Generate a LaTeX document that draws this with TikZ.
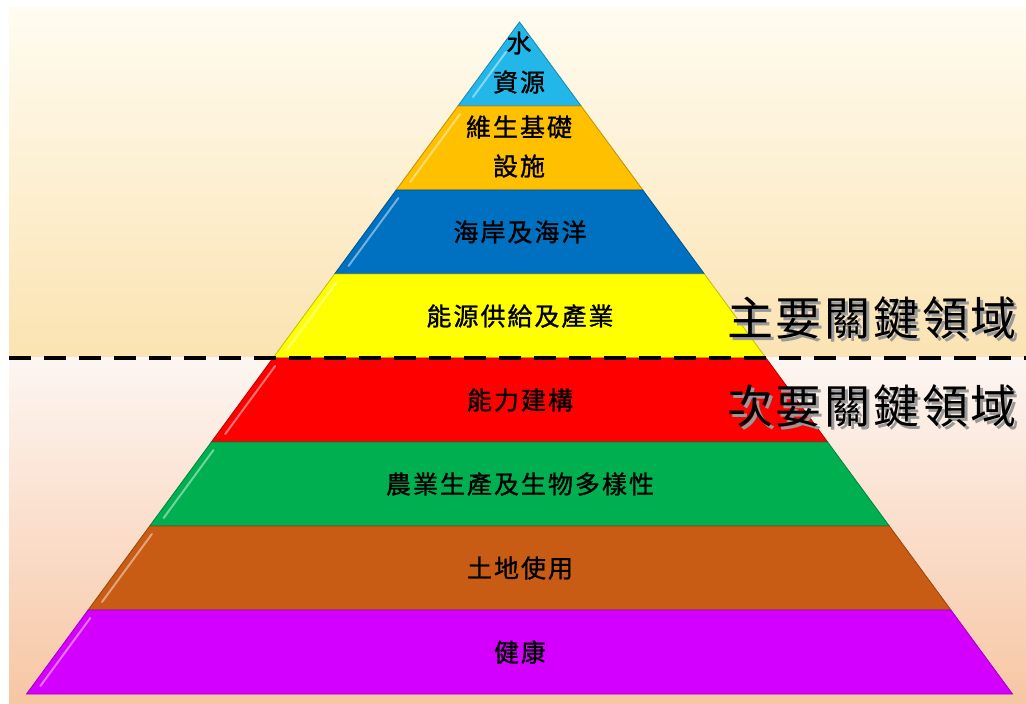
\documentclass[tikz,border=0pt]{standalone}
\usepackage{fontspec}
\newfontfamily\cjk{Noto Sans CJK TC}
\usetikzlibrary{calc}

\definecolor{waterblue}{RGB}{35,182,232}
\definecolor{lifegold}{RGB}{255,192,0}
\definecolor{seablue}{RGB}{0,112,192}
\definecolor{energyyellow}{RGB}{255,255,0}
\definecolor{capred}{RGB}{255,0,0}
\definecolor{agrigreen}{RGB}{0,176,80}
\definecolor{landbrown}{RGB}{200,92,20}
\definecolor{healthpink}{RGB}{212,0,255}
\definecolor{topsky}{RGB}{255,252,240}
\definecolor{topband}{RGB}{251,227,178}
\definecolor{lowsky}{RGB}{253,246,242}
\definecolor{lowband}{RGB}{247,198,163}

\begin{document}
\begin{tikzpicture}[x=1pt,y=-1pt,
    lbl/.style={font=\cjk\fontsize{25}{28}\selectfont\addfontfeature{FakeBold=1.2,LetterSpace=8},text=black,inner sep=0pt},
    zone/.style={font=\cjk\fontsize{46}{50}\selectfont\addfontfeature{LetterSpace=6},inner sep=0pt},
    layer/.style={line width=0.8pt},
    shine/.style={white,opacity=0.45,line width=2pt,line cap=round}]
    \useasboundingbox (0,0) rectangle (1026,704);

    % Background
    \shade[top color=topsky,bottom color=topband] (9,7) rectangle (1026,357);
    \shade[top color=lowsky,bottom color=lowband] (9,357) rectangle (1026,704);

    % Pyramid layers, top to bottom
    \filldraw[layer,fill=waterblue,draw=waterblue!75!black] (519.5,22) -- (581.1,106) -- (457.9,106) -- cycle;
    \filldraw[layer,fill=lifegold,draw=lifegold!75!black] (457.9,106) -- (581.1,106) -- (642.8,190) -- (396.2,190) -- cycle;
    \filldraw[layer,fill=seablue,draw=seablue!75!black] (396.2,190) -- (642.8,190) -- (704.4,274) -- (334.6,274) -- cycle;
    \filldraw[layer,fill=energyyellow,draw=energyyellow!75!black] (334.6,274) -- (704.4,274) -- (766.0,358) -- (273.0,358) -- cycle;
    \filldraw[layer,fill=capred,draw=capred!75!black] (273.0,358) -- (766.0,358) -- (827.6,442) -- (211.4,442) -- cycle;
    \filldraw[layer,fill=agrigreen,draw=agrigreen!75!black] (211.4,442) -- (827.6,442) -- (889.3,526) -- (149.7,526) -- cycle;
    \filldraw[layer,fill=landbrown,draw=landbrown!75!black] (149.7,526) -- (889.3,526) -- (950.9,610) -- (88.1,610) -- cycle;
    \filldraw[layer,fill=healthpink,draw=healthpink!75!black] (88.1,610) -- (950.9,610) -- (1012.5,694) -- (26.5,694) -- cycle;

    % Bevel highlight along the left edges
    \draw[shine] (506,52) -- (473,97);
    \foreach \yt in {106,190,...,610}
        \draw[shine] ({527.5-0.7336*(\yt-14)},\yt+8) -- ({527.5-0.7336*(\yt+54)},\yt+76);

    % Layer labels
    \node[lbl] (water1) at (519,43) {水};
    \node[lbl] (water2) at (519,82) {資源};
    \node[lbl] (life1) at (519,127) {維生基礎};
    \node[lbl] (life2) at (519,166) {設施};
    \node[lbl] (coast) at (520,232) {海岸及海洋};
    \node[lbl] (energy) at (520,316) {能源供給及產業};
    \node[lbl] (capacity) at (520,400) {能力建構};
    \node[lbl] (agri) at (520,484) {農業生產及生物多樣性};
    \node[lbl] (land) at (520,568) {土地使用};
    \node[lbl] (health) at (520,652) {健康};

    % Divider
    \draw[line width=4pt,dash pattern=on 22pt off 13pt] (9,358) -- (1026,358);

    % Zone titles with shadow
    \node[zone,text=black!40] (mainshadow) at (875,321) {主要關鍵領域};
    \node[zone] (main) at (872,318) {主要關鍵領域};
    \node[zone,text=black!40] (subshadow) at (875,409) {次要關鍵領域};
    \node[zone] (sub) at (872,406) {次要關鍵領域};
\end{tikzpicture}
\end{document}
